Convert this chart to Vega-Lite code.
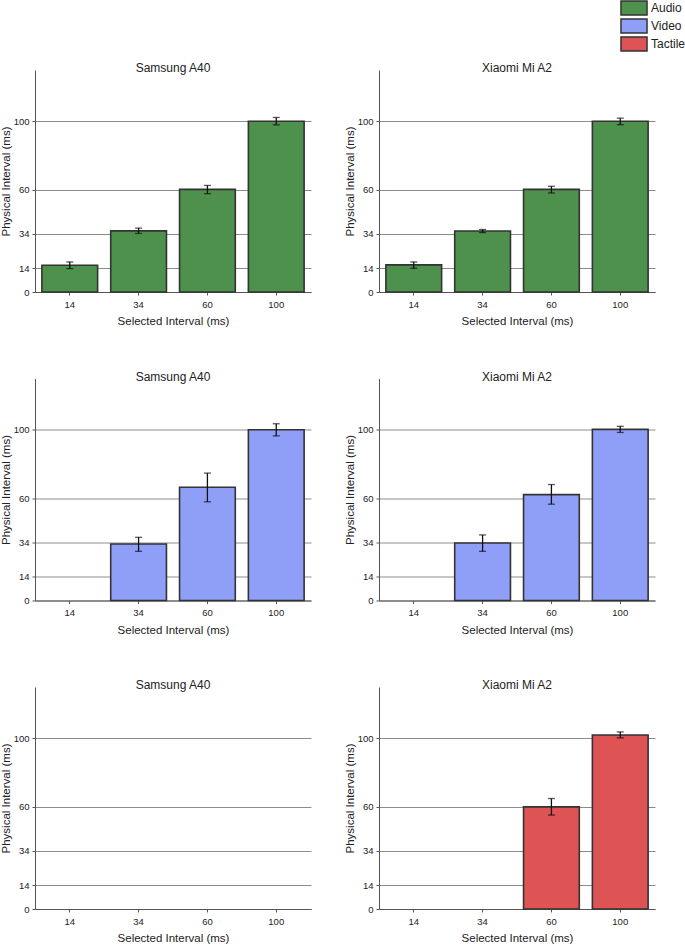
{
  "$schema": "https://vega.github.io/schema/vega-lite/v6.json",
  "padding": {"left": 0, "top": 0, "right": 0, "bottom": 0},
  "datasets": {
    "d": [
      {"device": "Samsung A40", "modality": "Audio", "interval": "14", "mean": 15.7, "lo": 13.7, "hi": 17.6},
      {"device": "Samsung A40", "modality": "Audio", "interval": "34", "mean": 35.8, "lo": 34.3, "hi": 37.4},
      {"device": "Samsung A40", "modality": "Audio", "interval": "60", "mean": 60.1, "lo": 57.6, "hi": 62.4},
      {"device": "Samsung A40", "modality": "Audio", "interval": "100", "mean": 100.0, "lo": 97.9, "hi": 102.2},
      {"device": "Xiaomi Mi A2", "modality": "Audio", "interval": "14", "mean": 15.9, "lo": 13.9, "hi": 17.6},
      {"device": "Xiaomi Mi A2", "modality": "Audio", "interval": "34", "mean": 35.7, "lo": 34.8, "hi": 36.6},
      {"device": "Xiaomi Mi A2", "modality": "Audio", "interval": "60", "mean": 60.1, "lo": 58.0, "hi": 61.9},
      {"device": "Xiaomi Mi A2", "modality": "Audio", "interval": "100", "mean": 100.0, "lo": 98.0, "hi": 101.8},
      {"device": "Samsung A40", "modality": "Video", "interval": "34", "mean": 33.1, "lo": 28.8, "hi": 37.0},
      {"device": "Samsung A40", "modality": "Video", "interval": "60", "mean": 66.3, "lo": 57.8, "hi": 74.6},
      {"device": "Samsung A40", "modality": "Video", "interval": "100", "mean": 100.0, "lo": 96.4, "hi": 103.5},
      {"device": "Xiaomi Mi A2", "modality": "Video", "interval": "34", "mean": 33.7, "lo": 28.8, "hi": 38.4},
      {"device": "Xiaomi Mi A2", "modality": "Video", "interval": "60", "mean": 62.0, "lo": 56.4, "hi": 67.9},
      {"device": "Xiaomi Mi A2", "modality": "Video", "interval": "100", "mean": 100.2, "lo": 98.4, "hi": 102.0},
      {"device": "Xiaomi Mi A2", "modality": "Tactile", "interval": "60", "mean": 59.8, "lo": 55.0, "hi": 64.7},
      {"device": "Xiaomi Mi A2", "modality": "Tactile", "interval": "100", "mean": 101.9, "lo": 100.2, "hi": 103.7}
    ]
  },
  "data": {"name": "d"},
  "columns": 2,
  "spacing": {"row": 43.5, "column": 33},
  "resolve": {"scale": {"color": "shared"}},
  "concat": [
    {
      "title": "Samsung A40", "width": 276, "height": 222,
      "transform": [{"filter": "datum.device === 'Samsung A40' && datum.modality === 'Audio'"}],
      "encoding": {"x": {"field": "interval", "type": "ordinal", "scale": {"domain": ["14", "34", "60", "100"], "paddingInner": 0.19, "paddingOuter": 0.1}, "axis": {"title": "Selected Interval (ms)"}}},
      "layer": [
        {"mark": {"type": "bar", "stroke": "#333", "strokeWidth": 1.6}, "encoding": {"y": {"field": "mean", "type": "quantitative", "scale": {"domain": [0, 130]}, "axis": {"title": "Physical Interval (ms)", "values": [0, 14, 34, 60, 100]}}, "color": {"field": "modality", "type": "nominal", "scale": {"domain": ["Audio", "Video", "Tactile"], "range": ["#4d914d", "#8f9ff7", "#de5353"]}}}},
        {"mark": {"type": "rule", "color": "#111", "strokeWidth": 1.3}, "encoding": {"y": {"field": "lo", "type": "quantitative"}, "y2": {"field": "hi"}}},
        {"mark": {"type": "tick", "color": "#111", "size": 7, "thickness": 1.3}, "encoding": {"y": {"field": "lo", "type": "quantitative"}}},
        {"mark": {"type": "tick", "color": "#111", "size": 7, "thickness": 1.3}, "encoding": {"y": {"field": "hi", "type": "quantitative"}}}
      ]
    },
    {
      "title": "Xiaomi Mi A2", "width": 276, "height": 222,
      "transform": [{"filter": "datum.device === 'Xiaomi Mi A2' && datum.modality === 'Audio'"}],
      "encoding": {"x": {"field": "interval", "type": "ordinal", "scale": {"domain": ["14", "34", "60", "100"], "paddingInner": 0.19, "paddingOuter": 0.1}, "axis": {"title": "Selected Interval (ms)"}}},
      "layer": [
        {"mark": {"type": "bar", "stroke": "#333", "strokeWidth": 1.6}, "encoding": {"y": {"field": "mean", "type": "quantitative", "scale": {"domain": [0, 130]}, "axis": {"title": "Physical Interval (ms)", "values": [0, 14, 34, 60, 100]}}, "color": {"field": "modality", "type": "nominal"}}},
        {"mark": {"type": "rule", "color": "#111", "strokeWidth": 1.3}, "encoding": {"y": {"field": "lo", "type": "quantitative"}, "y2": {"field": "hi"}}},
        {"mark": {"type": "tick", "color": "#111", "size": 7, "thickness": 1.3}, "encoding": {"y": {"field": "lo", "type": "quantitative"}}},
        {"mark": {"type": "tick", "color": "#111", "size": 7, "thickness": 1.3}, "encoding": {"y": {"field": "hi", "type": "quantitative"}}}
      ]
    },
    {
      "title": "Samsung A40", "width": 276, "height": 222,
      "transform": [{"filter": "datum.device === 'Samsung A40' && datum.modality === 'Video'"}],
      "encoding": {"x": {"field": "interval", "type": "ordinal", "scale": {"domain": ["14", "34", "60", "100"], "paddingInner": 0.19, "paddingOuter": 0.1}, "axis": {"title": "Selected Interval (ms)"}}},
      "layer": [
        {"mark": {"type": "bar", "stroke": "#333", "strokeWidth": 1.6}, "encoding": {"y": {"field": "mean", "type": "quantitative", "scale": {"domain": [0, 130]}, "axis": {"title": "Physical Interval (ms)", "values": [0, 14, 34, 60, 100]}}, "color": {"field": "modality", "type": "nominal"}}},
        {"mark": {"type": "rule", "color": "#111", "strokeWidth": 1.3}, "encoding": {"y": {"field": "lo", "type": "quantitative"}, "y2": {"field": "hi"}}},
        {"mark": {"type": "tick", "color": "#111", "size": 7, "thickness": 1.3}, "encoding": {"y": {"field": "lo", "type": "quantitative"}}},
        {"mark": {"type": "tick", "color": "#111", "size": 7, "thickness": 1.3}, "encoding": {"y": {"field": "hi", "type": "quantitative"}}}
      ]
    },
    {
      "title": "Xiaomi Mi A2", "width": 276, "height": 222,
      "transform": [{"filter": "datum.device === 'Xiaomi Mi A2' && datum.modality === 'Video'"}],
      "encoding": {"x": {"field": "interval", "type": "ordinal", "scale": {"domain": ["14", "34", "60", "100"], "paddingInner": 0.19, "paddingOuter": 0.1}, "axis": {"title": "Selected Interval (ms)"}}},
      "layer": [
        {"mark": {"type": "bar", "stroke": "#333", "strokeWidth": 1.6}, "encoding": {"y": {"field": "mean", "type": "quantitative", "scale": {"domain": [0, 130]}, "axis": {"title": "Physical Interval (ms)", "values": [0, 14, 34, 60, 100]}}, "color": {"field": "modality", "type": "nominal"}}},
        {"mark": {"type": "rule", "color": "#111", "strokeWidth": 1.3}, "encoding": {"y": {"field": "lo", "type": "quantitative"}, "y2": {"field": "hi"}}},
        {"mark": {"type": "tick", "color": "#111", "size": 7, "thickness": 1.3}, "encoding": {"y": {"field": "lo", "type": "quantitative"}}},
        {"mark": {"type": "tick", "color": "#111", "size": 7, "thickness": 1.3}, "encoding": {"y": {"field": "hi", "type": "quantitative"}}}
      ]
    },
    {
      "title": "Samsung A40", "width": 276, "height": 222,
      "transform": [{"filter": "datum.device === 'Samsung A40' && datum.modality === 'Tactile'"}],
      "encoding": {"x": {"field": "interval", "type": "ordinal", "scale": {"domain": ["14", "34", "60", "100"], "paddingInner": 0.19, "paddingOuter": 0.1}, "axis": {"title": "Selected Interval (ms)"}}},
      "layer": [
        {"mark": {"type": "bar", "stroke": "#333", "strokeWidth": 1.6}, "encoding": {"y": {"field": "mean", "type": "quantitative", "scale": {"domain": [0, 130]}, "axis": {"title": "Physical Interval (ms)", "values": [0, 14, 34, 60, 100]}}, "color": {"field": "modality", "type": "nominal"}}},
        {"mark": {"type": "rule", "color": "#111", "strokeWidth": 1.3}, "encoding": {"y": {"field": "lo", "type": "quantitative"}, "y2": {"field": "hi"}}},
        {"mark": {"type": "tick", "color": "#111", "size": 7, "thickness": 1.3}, "encoding": {"y": {"field": "lo", "type": "quantitative"}}},
        {"mark": {"type": "tick", "color": "#111", "size": 7, "thickness": 1.3}, "encoding": {"y": {"field": "hi", "type": "quantitative"}}}
      ]
    },
    {
      "title": "Xiaomi Mi A2", "width": 276, "height": 222,
      "transform": [{"filter": "datum.device === 'Xiaomi Mi A2' && datum.modality === 'Tactile'"}],
      "encoding": {"x": {"field": "interval", "type": "ordinal", "scale": {"domain": ["14", "34", "60", "100"], "paddingInner": 0.19, "paddingOuter": 0.1}, "axis": {"title": "Selected Interval (ms)"}}},
      "layer": [
        {"mark": {"type": "bar", "stroke": "#333", "strokeWidth": 1.6}, "encoding": {"y": {"field": "mean", "type": "quantitative", "scale": {"domain": [0, 130]}, "axis": {"title": "Physical Interval (ms)", "values": [0, 14, 34, 60, 100]}}, "color": {"field": "modality", "type": "nominal"}}},
        {"mark": {"type": "rule", "color": "#111", "strokeWidth": 1.3}, "encoding": {"y": {"field": "lo", "type": "quantitative"}, "y2": {"field": "hi"}}},
        {"mark": {"type": "tick", "color": "#111", "size": 7, "thickness": 1.3}, "encoding": {"y": {"field": "lo", "type": "quantitative"}}},
        {"mark": {"type": "tick", "color": "#111", "size": 7, "thickness": 1.3}, "encoding": {"y": {"field": "hi", "type": "quantitative"}}}
      ]
    }
  ],
  "config": {
    "font": "Liberation Sans",
    "view": {"stroke": null},
    "bar": {"opacity": 1},
    "axis": {"domainColor": "#555", "tickColor": "#555", "labelFontSize": 9.5, "labelColor": "#222", "titleFontSize": 11.5, "titleFontWeight": "normal", "titleColor": "#222", "tickSize": 3, "zindex": 1},
    "axisX": {"grid": false, "labelAngle": 0, "labelPadding": 4, "titlePadding": 7},
    "axisY": {"grid": true, "gridColor": "#000", "gridOpacity": 0.45, "labelPadding": 3, "titlePadding": 2},
    "title": {"fontSize": 12, "fontWeight": "normal", "color": "#222", "offset": -5, "baseline": "alphabetic"},
    "legend": {"orient": "none", "legendX": 591, "legendY": -70, "padding": 0, "title": null, "labelFontSize": 12, "labelColor": "#222", "symbolType": "M-1.86,-1H1.86V1H-1.86Z", "symbolSize": 196, "symbolStrokeColor": "#333", "symbolStrokeWidth": 1.5, "symbolOpacity": 1, "rowPadding": -4, "labelOffset": 9}
  }
}
